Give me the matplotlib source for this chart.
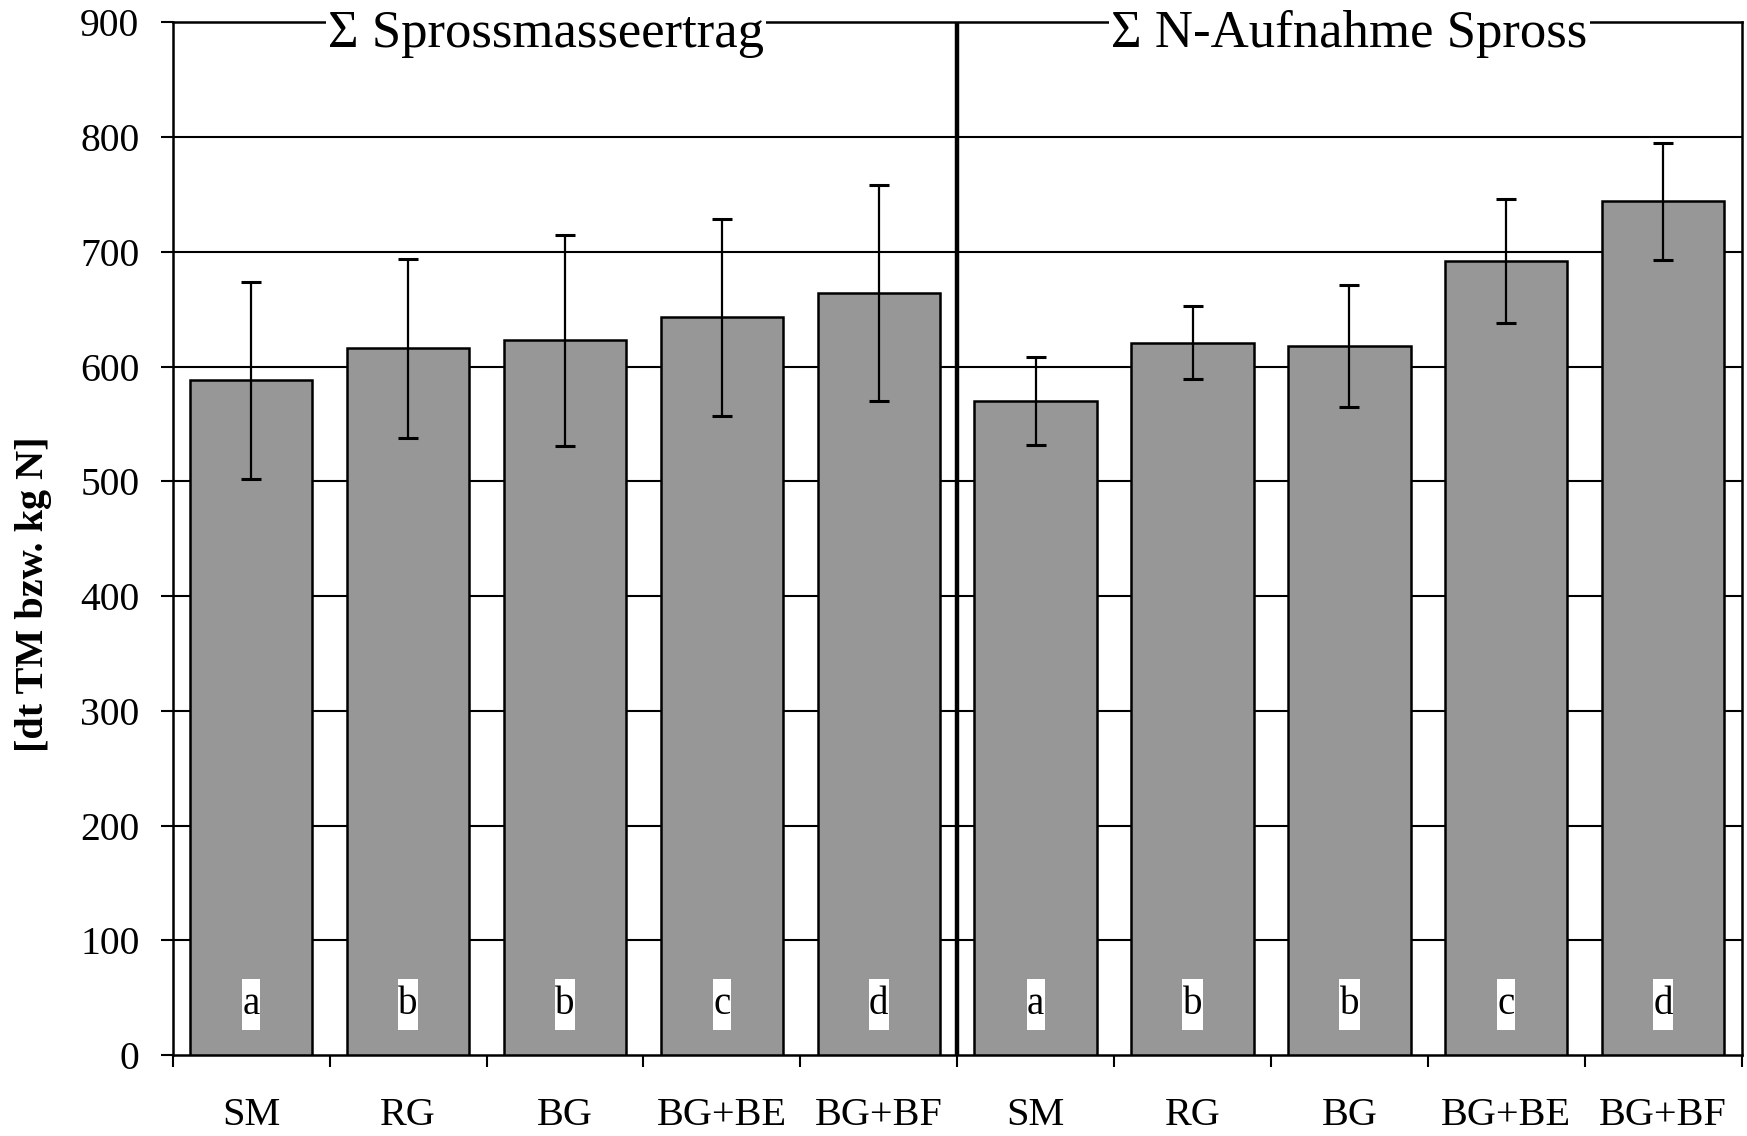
import matplotlib
matplotlib.use("Agg")
import matplotlib.pyplot as plt
from matplotlib.path import Path
import numpy as np

categories = ["SM", "RG", "BG", "BG+BE", "BG+BF", "SM", "RG", "BG", "BG+BE", "BG+BF"]
values = [588, 616, 623, 643, 664, 570, 621, 618, 692, 744]
errors = [86, 78, 92, 86, 94, 38, 32, 53, 54, 51]
letters = ["a", "b", "b", "c", "d", "a", "b", "b", "c", "d"]
group_titles = ["\u03a3 Sprossmasseertrag", "\u03a3 N-Aufnahme Spross"]
yticks = [0, 100, 200, 300, 400, 500, 600, 700, 800, 900]
ylabel = "[dt TM bzw. kg N]"

plt.rcParams['font.family'] = ['Liberation Serif', 'DejaVu Serif']


def tall_box(x0, y0, width, height, mutation_size):
    pv = 0.18 * mutation_size
    ph = 0.01 * mutation_size
    xa, xb = x0 - ph, x0 + width + ph
    ya, yb = y0 - pv, y0 + height + pv
    return Path([(xa, ya), (xb, ya), (xb, yb), (xa, yb), (xa, ya)],
                [Path.MOVETO, Path.LINETO, Path.LINETO, Path.LINETO, Path.CLOSEPOLY])


fig = plt.figure(figsize=(17.47, 11.36), dpi=100)
ax = fig.add_axes([0.0989, 0.0713, 0.8980, 0.9089])

x = np.arange(len(categories)) + 0.5
ax.set_xlim(0, len(categories))
ax.set_ylim(0, 900)

for yv in yticks[1:-1]:
    ax.axhline(yv, color='black', lw=1.5, zorder=0)

ax.bar(x, values, width=0.78, color='#979797', edgecolor='black', linewidth=1.8, zorder=2)
ax.errorbar(x, values, yerr=errors, fmt='none', ecolor='black', elinewidth=1.6,
            capsize=7.5, capthick=2.2, zorder=3)

for xi, lt in zip(x, letters):
    ax.text(xi, 44, lt, ha='center', va='center', fontsize=28, zorder=4,
            bbox=dict(boxstyle=tall_box, facecolor='white', edgecolor='none'))

ax.axvline(5, color='black', lw=3.2, zorder=3)

title_x = [2.38, 7.50]
for tx, tt in zip(title_x, group_titles):
    ax.annotate(tt, xy=(tx, 900), xytext=(0, -17.5), textcoords='offset points',
                ha='center', va='baseline', fontsize=38, zorder=5, annotation_clip=False,
                bbox=dict(facecolor='white', edgecolor='none', pad=1.5))

for s in ax.spines.values():
    s.set_linewidth(1.8)
    s.set_zorder(1)

ax.set_yticks(yticks)
ax.set_yticklabels([str(v) for v in yticks], fontsize=28.5)
ax.tick_params(axis='y', direction='out', length=9, width=1.5, pad=15)

ax.set_xticks(np.arange(0, len(categories) + 1))
ax.set_xticklabels([])
ax.tick_params(axis='x', which='major', direction='out', length=8.5, width=1.5)
ax.set_xticks(x, minor=True)
ax.set_xticklabels(categories, minor=True, fontsize=29)
ax.tick_params(axis='x', which='minor', length=0, pad=30)

ax.set_ylabel(ylabel, fontsize=29, fontweight='bold')
ax.yaxis.set_label_coords(-0.077, 0.446)

fig.savefig("out.png", dpi=100)
